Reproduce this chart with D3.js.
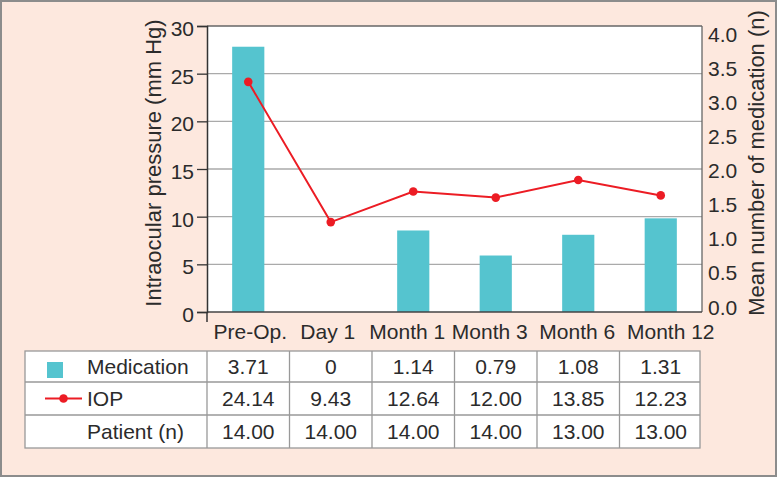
<!DOCTYPE html>
<html><head><meta charset="utf-8">
<script src="https://cdn.jsdelivr.net/npm/d3@7"></script>
<style>
html,body{margin:0;padding:0;background:#fde8de;}
svg{display:block;font-family:"Liberation Sans",Arial,Helvetica,sans-serif;}
</style></head>
<body>
<svg id="chart" width="777" height="477"></svg>
<script>
const categories = ["Pre-Op.", "Day 1", "Month 1", "Month 3", "Month 6", "Month 12"];
const medication = [3.71, 0, 1.14, 0.79, 1.08, 1.31];
const iop = [24.14, 9.43, 12.64, 12.00, 13.85, 12.23];
const patients = [14, 14, 14, 14, 13, 13];
const medLabels = ["3.71", "0", "1.14", "0.79", "1.08", "1.31"];
const leftTicks = [0, 5, 10, 15, 20, 25, 30];
const rightTicks = [0, 0.5, 1, 1.5, 2, 2.5, 3, 3.5, 4];
const labelNudge = [2, -3, -6, -6, -1, 10];

const W = 777, H = 477;
const svg = d3.select("#chart");
const FS = 21, TXT = "#2b2b2b";

svg.append("rect").attr("x", 0).attr("y", 0).attr("width", W).attr("height", H).attr("fill", "#fde8de");
svg.append("rect").attr("x", 1).attr("y", 1).attr("width", W - 2).attr("height", H - 2)
  .attr("fill", "none").attr("stroke", "#8c8c8c").attr("stroke-width", 2);

const x0 = 207, x1 = 702, yTop = 26, yBot = 312;
const x = d3.scaleBand().domain(categories).range([x0, x1]).paddingInner(0.61).paddingOuter(0.305);
const xStep = d3.scaleBand().domain(categories).range([x0, x1]);
const yL = d3.scaleLinear().domain([0, 30]).range([yBot, yTop]);
const yR = d3.scaleLinear().domain([0, 4]).range([yBot, yTop]);
const yRLab = d3.scaleLinear().domain([0, 4]).range([yBot - 5, yTop + 8]);

svg.append("rect").attr("x", x0).attr("y", yTop).attr("width", x1 - x0).attr("height", yBot - yTop).attr("fill", "#fff");

svg.append("g").selectAll("line").data(leftTicks.filter(d => d > 0 && d < 30)).join("line")
  .attr("x1", x0).attr("x2", x1).attr("y1", d => yL(d)).attr("y2", d => yL(d))
  .attr("stroke", "#aaaaaa").attr("stroke-width", 1.3);

svg.append("g").selectAll("rect").data(categories).join("rect")
  .attr("x", d => x(d)).attr("width", x.bandwidth())
  .attr("y", (d, i) => yR(medication[i])).attr("height", (d, i) => yBot - yR(medication[i]))
  .attr("fill", "#55c4cf");

svg.append("line").attr("x1", x0).attr("x2", x1).attr("y1", yTop).attr("y2", yTop).attr("stroke", "#666").attr("stroke-width", 1.3);
svg.append("line").attr("x1", x1).attr("x2", x1).attr("y1", yTop).attr("y2", yBot).attr("stroke", "#666").attr("stroke-width", 1.3);
svg.append("line").attr("x1", x0).attr("x2", x1).attr("y1", yBot).attr("y2", yBot).attr("stroke", "#444").attr("stroke-width", 1.3);

const gL = svg.append("g").attr("transform", `translate(${x0},0)`)
  .call(d3.axisLeft(yL).tickValues(leftTicks).tickSize(10).tickPadding(3));
gL.select(".domain").attr("stroke", "#333").attr("stroke-width", 1.5);
gL.selectAll(".tick line").attr("stroke", "#333").attr("stroke-width", 1.3);
gL.selectAll(".tick text").attr("font-size", FS).attr("fill", TXT).attr("dy", "0.45em").attr("font-family", null);
svg.append("line").attr("x1", x0).attr("x2", x0).attr("y1", yBot).attr("y2", yBot + 10).attr("stroke", "#333").attr("stroke-width", 1.5);

svg.append("g").selectAll("text").data(rightTicks).join("text")
  .attr("x", x1 + 6).attr("y", d => yRLab(d)).attr("dy", "0.36em")
  .attr("font-size", FS).attr("fill", TXT).text(d => d3.format(".1f")(d));

svg.append("g").selectAll("text").data(categories).join("text")
  .attr("x", (d, i) => xStep(d) + xStep.bandwidth() / 2 + labelNudge[i]).attr("y", 339)
  .attr("text-anchor", "middle").attr("font-size", FS).attr("fill", TXT).text(d => d);

svg.append("text").attr("transform", "translate(161,163) rotate(-90)")
  .attr("text-anchor", "middle").attr("font-size", 22).attr("fill", TXT).text("Intraocular pressure (mm Hg)");
svg.append("text").attr("transform", "translate(764,163) rotate(-90)")
  .attr("text-anchor", "middle").attr("font-size", 22).attr("fill", TXT).text("Mean number of medication (n)");

const cx = (d) => xStep(d) + xStep.bandwidth() / 2;
const line = d3.line().x((d, i) => cx(categories[i])).y(d => yL(d));
svg.append("path").datum(iop).attr("d", line).attr("fill", "none").attr("stroke", "#ec1c24").attr("stroke-width", 2);
svg.append("g").selectAll("circle").data(iop).join("circle")
  .attr("cx", (d, i) => cx(categories[i])).attr("cy", d => yL(d)).attr("r", 4.3).attr("fill", "#ec1c24");

const tL = 25, tR = 700;
const rowY = [351, 382, 415, 448];
const tbl = svg.append("g");
tbl.append("rect").attr("x", tL).attr("y", rowY[0]).attr("width", tR - tL).attr("height", rowY[3] - rowY[0])
  .attr("fill", "#fff").attr("stroke", "#999").attr("stroke-width", 1.3);
tbl.selectAll("line.h").data(rowY.slice(1, 3)).join("line").attr("class", "h")
  .attr("x1", tL).attr("x2", tR).attr("y1", d => d).attr("y2", d => d).attr("stroke", "#999").attr("stroke-width", 1.3);
tbl.selectAll("line.v").data(categories).join("line").attr("class", "v")
  .attr("x1", d => xStep(d)).attr("x2", d => xStep(d)).attr("y1", rowY[0]).attr("y2", rowY[3])
  .attr("stroke", "#999").attr("stroke-width", 1.3);

const rows = [
  {name: "Medication", vals: medLabels},
  {name: "IOP", vals: iop.map(d => d3.format(".2f")(d))},
  {name: "Patient (n)", vals: patients.map(d => d3.format(".2f")(d))}
];
rows.forEach((r, ri) => {
  const yc = (rowY[ri] + rowY[ri + 1]) / 2;
  tbl.append("text").attr("x", 87).attr("y", yc).attr("dy", "0.36em").attr("font-size", FS).attr("fill", TXT).text(r.name);
  tbl.selectAll(null).data(r.vals).join("text")
    .attr("x", (d, i) => cx(categories[i])).attr("y", yc).attr("dy", "0.36em")
    .attr("text-anchor", "middle").attr("font-size", FS).attr("fill", TXT).text(d => d);
});
tbl.append("rect").attr("x", 47).attr("y", 362).attr("width", 16).attr("height", 16).attr("fill", "#55c4cf");
tbl.append("line").attr("x1", 45).attr("x2", 82).attr("y1", 398.5).attr("y2", 398.5).attr("stroke", "#ec1c24").attr("stroke-width", 2);
tbl.append("circle").attr("cx", 63.5).attr("cy", 398.5).attr("r", 4.3).attr("fill", "#ec1c24");
</script>
</body></html>
